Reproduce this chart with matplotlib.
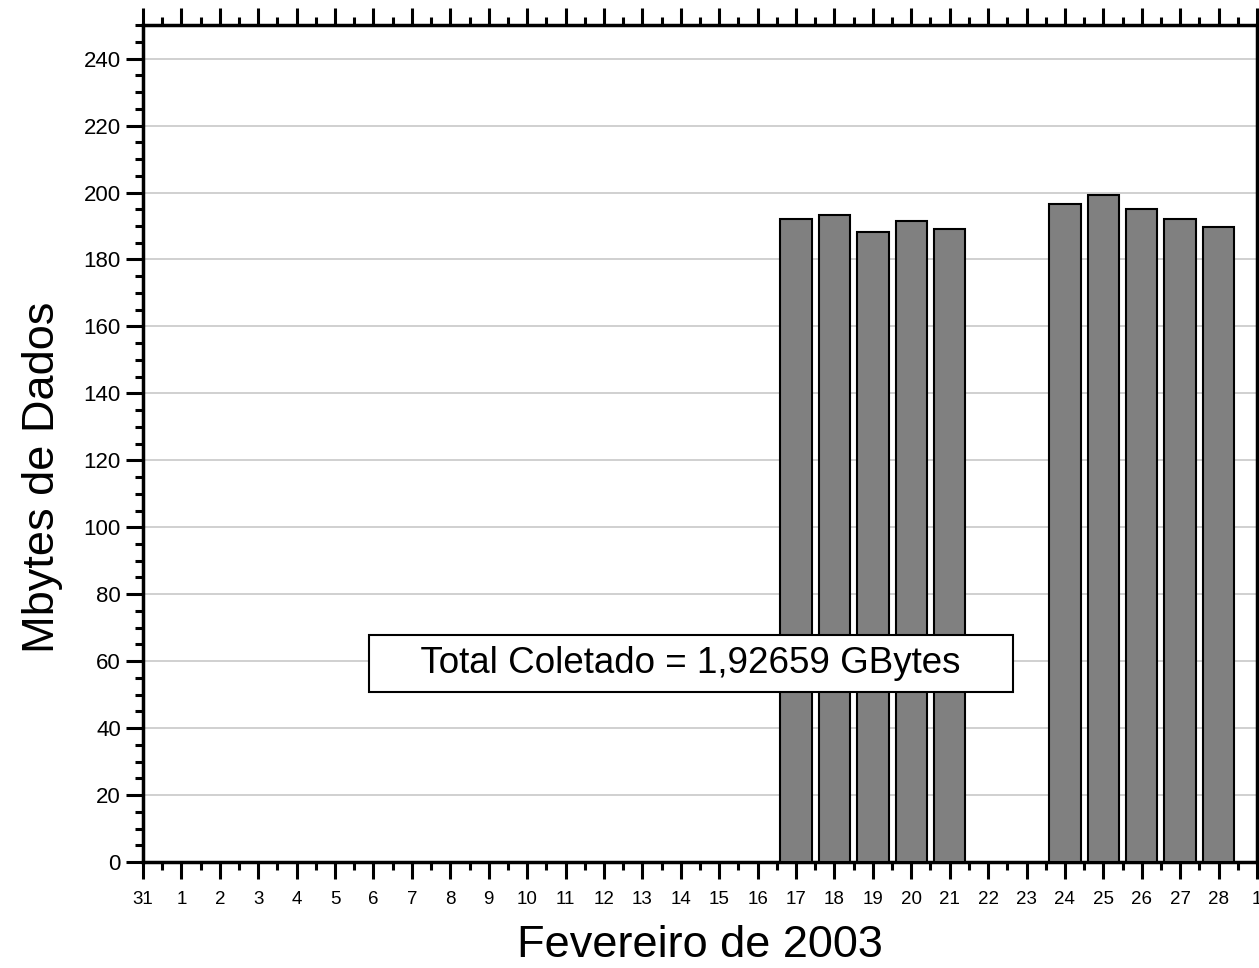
import matplotlib
matplotlib.use("Agg")
import matplotlib.pyplot as plt
from matplotlib.ticker import MultipleLocator

# ── Data ──────────────────────────────────────────────────────────────────────
day_labels = ["31"] + [str(d) for d in range(1, 29)] + ["1"]
bar_days   = [17, 18, 19, 20, 21, 24, 25, 26, 27, 28]
mbytes     = [192.0, 193.3, 188.2, 191.4, 189.0, 196.7, 199.3, 195.0, 192.0, 189.8]
total_text = "Total Coletado = 1,92659 GBytes"

plt.rcParams["font.family"] = ["Liberation Sans", "DejaVu Sans"]

fig = plt.figure(figsize=(12.59, 9.68), dpi=100)
ax = fig.add_axes([0.1136, 0.1095, 0.8848, 0.8645])

# position of each day on the axis (31 Jan = 0)
pos = {int(l): i for i, l in enumerate(day_labels[1:-1], start=1)}
xs = [pos[d] for d in bar_days]
ax.bar(xs, mbytes, width=0.82, color="#808080", edgecolor="black",
       linewidth=1.5, zorder=3)

ax.set_xlim(0, len(day_labels) - 1)
ax.set_ylim(0, 250)
ax.set_xticks(range(len(day_labels)))
ax.set_xticklabels(day_labels, fontsize=13.5)
ax.xaxis.set_minor_locator(MultipleLocator(0.5))
ax.yaxis.set_major_locator(MultipleLocator(20))
ax.yaxis.set_minor_locator(MultipleLocator(5))
ax.tick_params(axis="y", labelsize=16, pad=4)

ax.tick_params(which="major", direction="out", length=12, width=2.2)
ax.tick_params(which="minor", direction="out", length=6, width=2.2)
ax.tick_params(axis="x", which="major", pad=9)
ax.tick_params(axis="x", which="both", top=True)
ax.tick_params(axis="y", which="both", right=False)

for s in ax.spines.values():
    s.set_linewidth(2.5)

ax.grid(axis="y", color="#c8c8c8", linewidth=1.2, zorder=0)
ax.set_axisbelow(True)

ax.set_xlabel("Fevereiro de 2003", fontsize=32.5, labelpad=12)
ax.set_ylabel("Mbytes de Dados", fontsize=32.5)
ax.yaxis.set_label_coords(-0.072, 0.46)

ax.text(14.27, 59.2, "    " + total_text + "    ", fontsize=26.5,
        ha="center", va="center", zorder=5,
        bbox=dict(boxstyle="square,pad=0.3", facecolor="white",
                  edgecolor="black", linewidth=1.5))

fig.savefig("out.png", dpi=100)
